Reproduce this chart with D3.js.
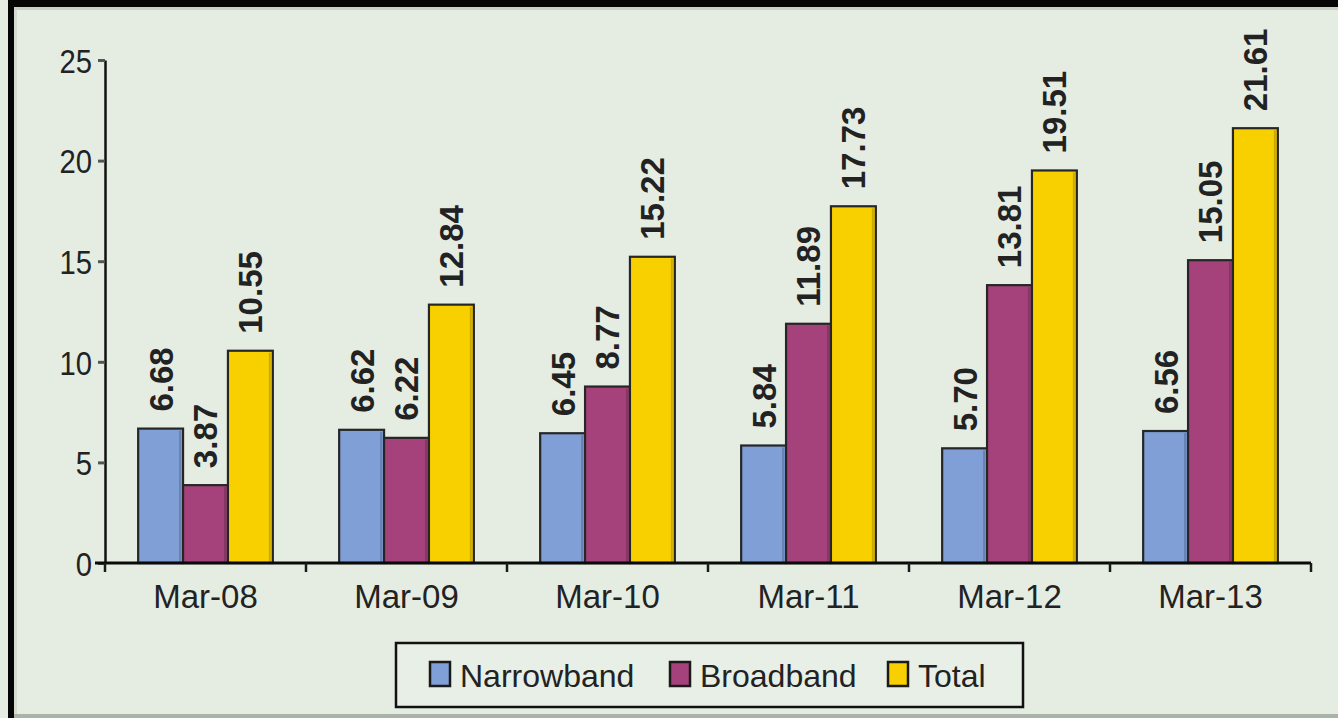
<!DOCTYPE html>
<html>
<head>
<meta charset="utf-8">
<script src="https://cdn.jsdelivr.net/npm/d3@7"></script>
<style>
  html, body { margin: 0; padding: 0; background: #e5ede3; }
  svg { display: block; }
  text { font-family: "Liberation Sans", Arial, sans-serif; fill: #222; }
</style>
</head>
<body>
<svg id="chart" width="1338" height="718"></svg>
<script>
// Subscriber base by period (millions)
const categories = ["Mar-08", "Mar-09", "Mar-10", "Mar-11", "Mar-12", "Mar-13"];
const seriesNames = ["Narrowband", "Broadband", "Total"];
const narrowband = [6.68, 6.62, 6.45, 5.84, 5.70, 6.56];
const broadband  = [3.87, 6.22, 8.77, 11.89, 13.81, 15.05];
const total      = [10.55, 12.84, 15.22, 17.73, 19.51, 21.61];
const yTicks = [0, 5, 10, 15, 20, 25];

const seriesValues = [narrowband, broadband, total];
const colors = ["#7f9fd6", "#a6427b", "#f8d000"];

const W = 1338, H = 718;
const margin = { left: 105, right: 27, top: 60, bottom: 155 };

const svg = d3.select("#chart");

// backdrop and frame
svg.append("rect").attr("width", W).attr("height", H).attr("fill", "#e5ede3");
svg.append("rect").attr("x", 8).attr("y", 0).attr("width", W - 8).attr("height", 7).attr("fill", "#050505");
svg.append("rect").attr("x", 14).attr("y", 7).attr("width", W - 14).attr("height", 3).attr("fill", "#c9d1c7");
svg.append("rect").attr("x", 8).attr("y", 0).attr("width", 6).attr("height", H).attr("fill", "#050505");
svg.append("rect").attr("x", 14).attr("y", 10).attr("width", 3).attr("height", H - 10).attr("fill", "#d3dbd1");
svg.append("rect").attr("x", 14).attr("y", 714).attr("width", W - 14).attr("height", 4).attr("fill", "#aab3a8");

const x0 = d3.scaleBand()
  .domain(categories)
  .range([margin.left, W - margin.right])
  .paddingInner(0.33)
  .paddingOuter(0.165);

const x1 = d3.scaleBand()
  .domain(seriesNames)
  .range([0, x0.bandwidth()]);

const y = d3.scaleLinear()
  .domain([0, 25])
  .range([H - margin.bottom - 0, margin.top]);

const plotLeft = margin.left, plotRight = W - margin.right;
const y0 = y(0);

// bars
const groups = svg.append("g").selectAll("g")
  .data(categories)
  .join("g")
  .attr("transform", d => `translate(${x0(d)},0)`);

groups.each(function(cat, ci) {
  const g = d3.select(this);
  seriesNames.forEach((s, si) => {
    const v = seriesValues[si][ci];
    const bx = x1(s), bw = x1.bandwidth();
    g.append("rect")
      .attr("x", bx)
      .attr("y", y(v))
      .attr("width", bw)
      .attr("height", y0 - y(v))
      .attr("fill", colors[si])
      .attr("stroke", "#262626")
      .attr("stroke-width", 2.2);
    // soft inner edge on the right side of each bar
    g.append("line")
      .attr("x1", bx + bw - 3).attr("x2", bx + bw - 3)
      .attr("y1", y(v) + 2).attr("y2", y0)
      .attr("stroke", "#000").attr("stroke-opacity", 0.18).attr("stroke-width", 2);
    // value label, rotated
    const lx = bx + bw / 2, ly = y(v) - 17;
    g.append("text")
      .attr("transform", `translate(${lx},${ly}) rotate(-90)`)
      .attr("dy", "0.36em")
      .attr("text-anchor", "start")
      .attr("font-size", 33)
      .attr("font-weight", "bold")
      .attr("fill", "#1e1e1e")
      .text(v.toFixed(2));
  });
});

// y axis
const yAxis = d3.axisLeft(y).tickValues(yTicks).tickSize(7).tickSizeOuter(0).tickFormat(d3.format("d"));
const gy = svg.append("g").attr("transform", `translate(${plotLeft},0)`).call(yAxis);
gy.select(".domain").attr("stroke", "#111").attr("stroke-width", 2.5);
gy.selectAll(".tick line").attr("stroke", "#555").attr("stroke-width", 3);
gy.selectAll(".tick text")
  .attr("x", 0).attr("dy", "0.36em").attr("font-size", 34).attr("fill", "#2a2a2a")
  .attr("font-family", "Liberation Sans, Arial, sans-serif")
  .attr("text-anchor", "end")
  .attr("transform", "translate(-13,0) scale(0.86,1)");

// x axis
svg.append("line")
  .attr("x1", plotLeft - 10).attr("x2", plotRight)
  .attr("y1", y0).attr("y2", y0)
  .attr("stroke", "#0a0a0a").attr("stroke-width", 3);
const bounds = categories.map(c => x0(c) - x0.step() * x0.paddingInner() / 2);
bounds.push(plotRight);
svg.append("g").selectAll("line")
  .data(bounds)
  .join("line")
  .attr("x1", d => d).attr("x2", d => d)
  .attr("y1", y0).attr("y2", y0 + 9)
  .attr("stroke", "#1a1a1a").attr("stroke-width", 2.5);

svg.append("g").selectAll("text")
  .data(categories)
  .join("text")
  .attr("x", d => x0(d) + x0.bandwidth() / 2)
  .attr("y", y0 + 45)
  .attr("text-anchor", "middle")
  .attr("font-size", 33)
  .attr("fill", "#2a2a2a")
  .text(d => d);

// legend
const legend = svg.append("g");
legend.append("rect")
  .attr("x", 396).attr("y", 643).attr("width", 627).attr("height", 64)
  .attr("fill", "#e8efe6").attr("stroke", "#111").attr("stroke-width", 2.5);
const legendX = [430, 670, 888];
seriesNames.forEach((s, i) => {
  legend.append("rect")
    .attr("x", legendX[i]).attr("y", 662).attr("width", 20).attr("height", 24)
    .attr("fill", colors[i]).attr("stroke", "#1a1a1a").attr("stroke-width", 2.5);
  legend.append("text")
    .attr("x", legendX[i] + 30).attr("y", 687)
    .attr("font-size", 32)
    .attr("fill", "#262626")
    .text(s);
});
</script>
</body>
</html>
